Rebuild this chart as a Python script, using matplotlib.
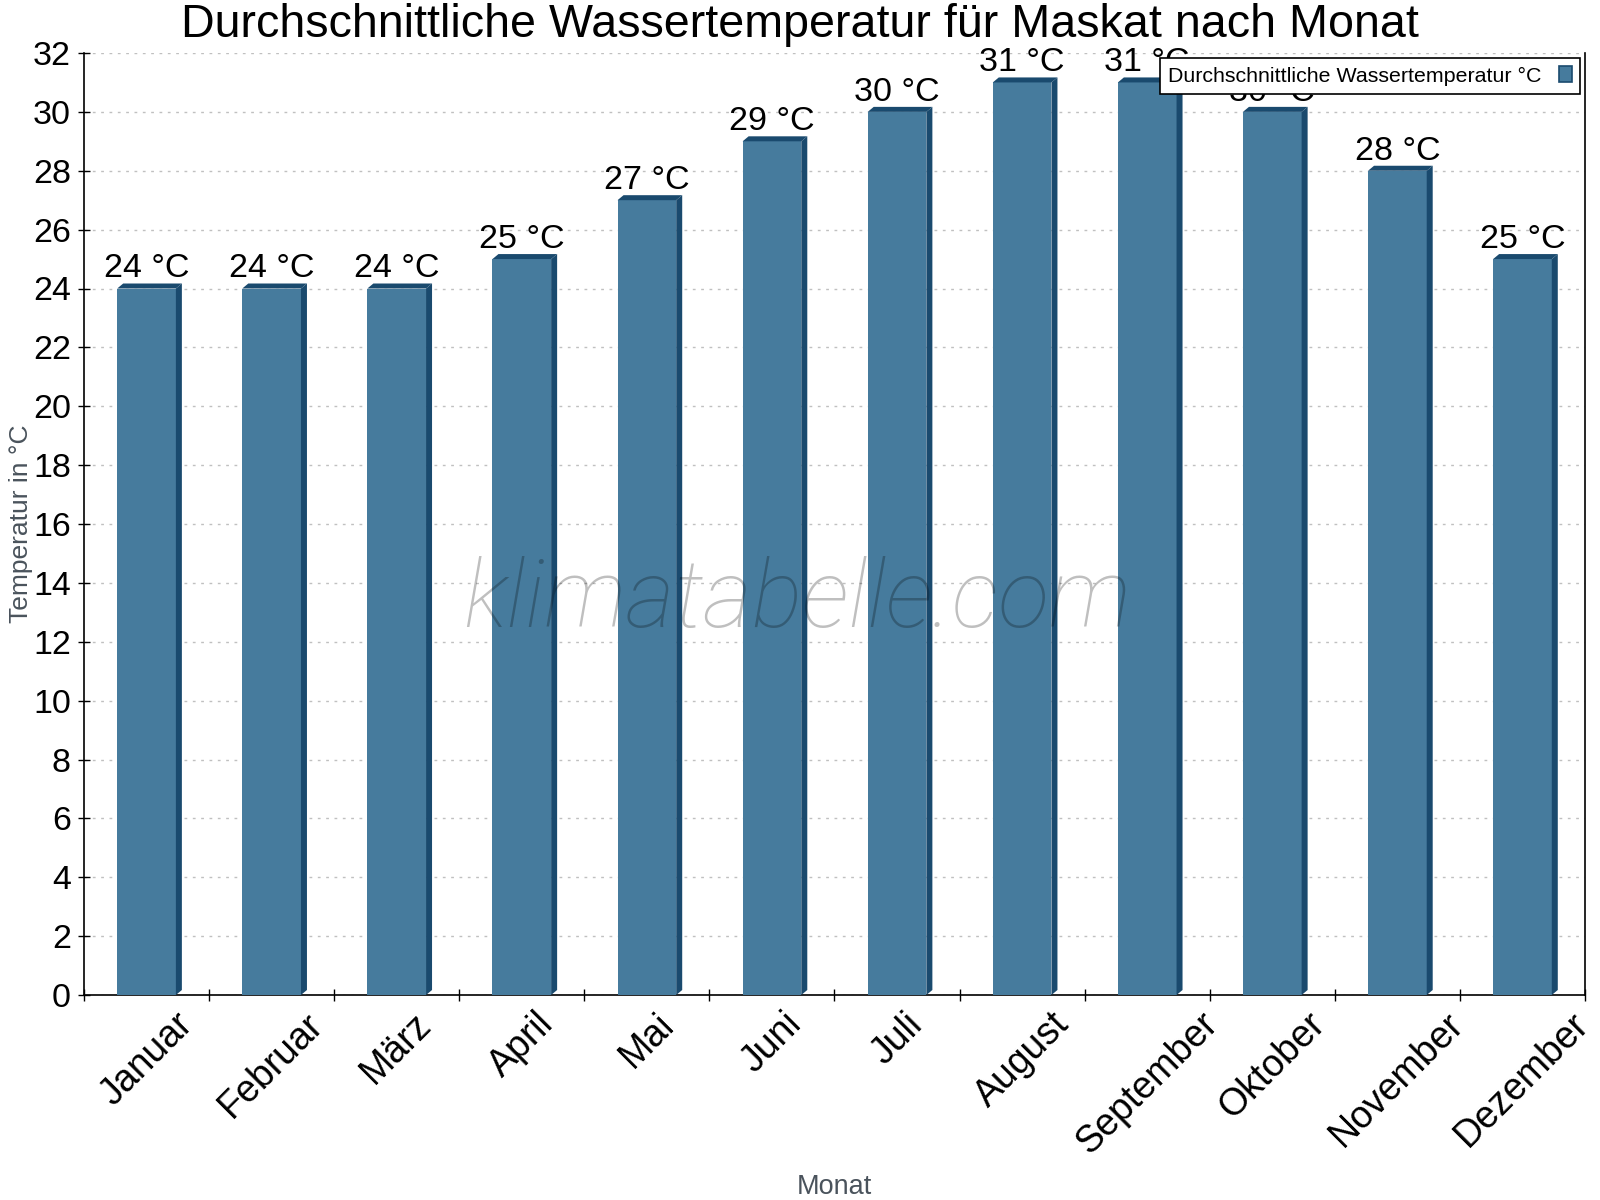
import matplotlib
matplotlib.use("Agg")
import matplotlib.pyplot as plt
from matplotlib.patches import Polygon, Rectangle
import numpy as np

months = ["Januar", "Februar", "März", "April", "Mai", "Juni", "Juli",
          "August", "September", "Oktober", "November", "Dezember"]
temps = [24, 24, 24, 25, 27, 29, 30, 31, 31, 30, 28, 25]
series_name = "Durchschnittliche Wassertemperatur °C"
title = "Durchschnittliche Wassertemperatur für Maskat nach Monat"
ylabel = "Temperatur in °C"
xlabel = "Monat"
yticks = list(range(0, 33, 2))

FRONT = "#467b9d"
DARK = "#1a4a6e"
GRAY = "#4a535c"

plt.rcParams['font.family'] = ['Liberation Sans', 'DejaVu Sans']

fig = plt.figure(figsize=(16, 12), dpi=100)
ax = fig.add_axes([84/1600, 1-995/1200, (1585-84)/1600, (995-53)/1200])

x = np.arange(len(months))
bw = 0.469
ax.set_xlim(-0.5, len(months) - 0.5)
ax.set_ylim(0, 32)

# depth in data units (6 px, 5 px)
ax_w_px = 1501
ax_h_px = 942
ddx = 6 / ax_w_px * len(months)
ddy = 5 / ax_h_px * 32

ax.bar(x, temps, width=bw, color=FRONT, zorder=3, linewidth=0)
for xi, v in zip(x, temps):
    l, r = xi - bw/2, xi + bw/2
    top = Polygon([(l, v), (l + ddx, v + ddy), (r + ddx, v + ddy), (r, v)],
                  closed=True, facecolor=DARK, edgecolor='none', zorder=3)
    side = Polygon([(r, 0), (r + ddx, ddy), (r + ddx, v + ddy), (r, v)],
                   closed=True, facecolor=DARK, edgecolor='none', zorder=3)
    ax.add_patch(top)
    ax.add_patch(side)
    ax.annotate(f"{v} °C", (xi, v), xytext=(0, 8), textcoords='offset points',
                ha='center', va='baseline', fontsize=24.5, color='black', zorder=4)

# grid
ax.set_yticks(yticks)
ax.yaxis.grid(True, color='#c0c0c0', linestyle=(0, (2, 4)), linewidth=1, zorder=0)
ax.set_axisbelow(True)

# x ticks at boundaries, labels at centers
ax.set_xticks(np.arange(-0.5, len(months), 1))
ax.set_xticklabels([])
ax.set_xticks(x, minor=True)
ax.set_xticklabels(months, minor=True, rotation=45, ha='center', fontsize=27)
ax.tick_params(axis='x', which='minor', length=0, pad=8)
ax.tick_params(axis='x', which='major', direction='inout', length=9, width=1)
ax.tick_params(axis='y', direction='inout', length=9, width=1, labelsize=24.5, pad=5)

ax.spines['top'].set_visible(False)
for s in ['left', 'bottom', 'right']:
    ax.spines[s].set_linewidth(1.2)
    ax.spines[s].set_color('black')

# legend
handle = Rectangle((0, 0), 1, 1, facecolor=FRONT, edgecolor=DARK, linewidth=1.2)
leg = ax.legend([handle], [series_name], loc='upper right',
                bbox_to_anchor=(0.9967, 0.9947), borderaxespad=0,
                fontsize=15.4, markerfirst=False, fancybox=False,
                framealpha=1, edgecolor='black', handlelength=0.62,
                handleheight=0.8, handletextpad=0.8, borderpad=0.38)
leg.get_frame().set_linewidth(1.2)
leg.set_zorder(10)

# titles / labels
fig.text(0.5, 1-37/1200, title, ha='center', va='baseline', fontsize=33.6)
fig.text(834/1600, 1-1194/1200, xlabel, ha='center', va='baseline', fontsize=19.5, color=GRAY)
fig.text(21/1600, 1-524/1200, ylabel, ha='center', va='center', rotation=90,
         fontsize=19, color=GRAY)

# watermark
fig.text(797/1600, 1-627/1200, "klimatabelle.com", ha='center', va='baseline',
         fontsize=68, family='Roboto', style='italic', weight='light',
         color='black', alpha=0.25, zorder=20)

fig.savefig("out.png", dpi=100)
